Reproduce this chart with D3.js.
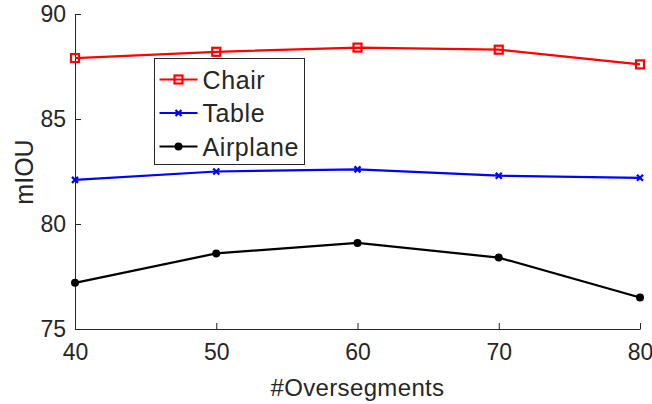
<!DOCTYPE html>
<meta charset="utf-8">
<head>
    <script src="https://d3js.org/d3.v7.min.js"></script>
    <style>
        body { margin: 0; background: #fff; }
        text { font-family: "Liberation Sans", Arial, sans-serif; fill: #262626; }
    </style>
</head>
<body>
<div id="graph"></div>
<script>
    // data
    var oversegments = [40, 50, 60, 70, 80];
    var chair    = [87.9, 88.2, 88.4, 88.3, 87.6];
    var table    = [82.1, 82.5, 82.6, 82.3, 82.2];
    var airplane = [77.2, 78.6, 79.1, 78.4, 76.5];
    var xTicks = [40, 50, 60, 70, 80];
    var yTicks = [75, 80, 85, 90];

    var series = [
        {name: "Chair", values: chair, color: "#ff0000", marker: "square"},
        {name: "Table", values: table, color: "#0000ff", marker: "x"},
        {name: "Airplane", values: airplane, color: "#000000", marker: "circle"}
    ];

    var W = 652, H = 404;
    var margin = {top: 14, right: 12, bottom: 75, left: 75};
    var width = W - margin.left - margin.right,
        height = H - margin.top - margin.bottom;

    var svg = d3.select("#graph").append("svg")
        .attr("width", W).attr("height", H);
    var g = svg.append("g")
        .attr("transform", "translate(" + margin.left + "," + margin.top + ")");

    var x = d3.scaleLinear().domain([40, 80]).range([0, width]);
    var y = d3.scaleLinear().domain([75, 90]).range([height, 0]);

    // axes (MATLAB style, ticks pointing in)
    var xAxis = g.append("g")
        .attr("transform", "translate(0," + height + ")")
        .call(d3.axisBottom(x).tickValues(xTicks).tickSize(-6).tickPadding(15).tickSizeOuter(0));
    var yAxis = g.append("g")
        .call(d3.axisLeft(y).tickValues(yTicks).tickSize(-6).tickPadding(9).tickSizeOuter(0));
    [xAxis, yAxis].forEach(function(a) {
        a.select(".domain").attr("stroke", "#262626");
        a.selectAll(".tick line").attr("stroke", "#262626");
        a.selectAll(".tick text").style("font-size", "23px").attr("fill", "#262626");
    });
    xAxis.selectAll(".tick text").attr("dy", "0.71em");

    // axis labels
    g.append("text")
        .attr("x", width / 2).attr("y", height + 67)
        .attr("text-anchor", "middle")
        .style("font-size", "24px")
        .style("letter-spacing", "0.35px")
        .text("#Oversegments");
    g.append("text")
        .attr("transform", "rotate(-90)")
        .attr("x", -158).attr("y", -42)
        .attr("text-anchor", "middle")
        .style("font-size", "25px")
        .text("mIOU");

    var line = d3.line()
        .x(function(d, i) { return x(oversegments[i]); })
        .y(function(d) { return y(d); });

    function drawMarker(sel, type, color) {
        if (type === "square") {
            sel.append("rect")
                .attr("x", -4).attr("y", -4).attr("width", 8).attr("height", 8)
                .attr("fill", "none").attr("stroke", color).attr("stroke-width", 2.2);
        } else if (type === "x") {
            sel.append("path")
                .attr("d", "M-3,-3L3,3M-3,3L3,-3")
                .attr("stroke", color).attr("stroke-width", 2.2);
        } else {
            sel.append("circle").attr("r", 4).attr("fill", color);
        }
    }

    series.forEach(function(s) {
        g.append("path")
            .datum(s.values)
            .attr("d", line)
            .attr("fill", "none")
            .attr("stroke", s.color)
            .attr("stroke-width", 2.2);
        g.selectAll(null)
            .data(s.values)
            .enter()
            .append("g")
            .attr("transform", function(d, i) { return "translate(" + x(oversegments[i]) + "," + y(d) + ")"; })
            .each(function() { drawMarker(d3.select(this), s.marker, s.color); });
    });

    // legend
    var legend = svg.append("g").attr("transform", "translate(154.5,58.5)");
    legend.append("rect")
        .attr("width", 150).attr("height", 106)
        .attr("fill", "#fff").attr("stroke", "#262626").attr("stroke-width", 1);
    series.forEach(function(s, i) {
        var row = legend.append("g").attr("transform", "translate(0," + (21 + i * 33.5) + ")");
        row.append("line")
            .attr("x1", 5).attr("x2", 43)
            .attr("stroke", s.color).attr("stroke-width", 2.2);
        drawMarker(row.append("g").attr("transform", "translate(24,0)"), s.marker, s.color);
        row.append("text")
            .attr("x", 48).attr("y", 0).attr("dy", "0.36em")
            .style("font-size", "25px")
            .style("letter-spacing", "0.6px")
            .attr("fill", "#000")
            .text(s.name);
    });
</script>
</body>
